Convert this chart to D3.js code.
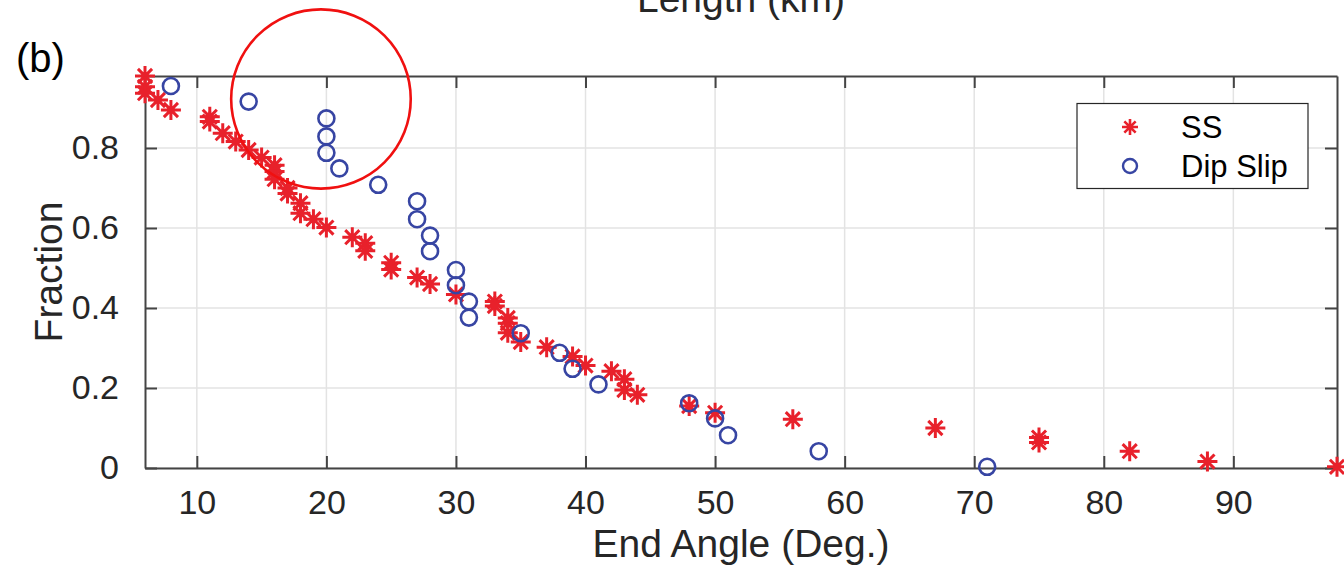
<!DOCTYPE html>
<html>
<head>
<meta charset="utf-8">
<script src="https://cdn.jsdelivr.net/npm/d3@7"></script>
<style>
  html, body { margin: 0; padding: 0; background: #fff; }
  svg { display: block; }
  text { font-family: "Liberation Sans", Arial, Helvetica, sans-serif; }
</style>
</head>
<body>
<svg id="chart" width="1344" height="566"></svg>
<script>
// ---------------- data ----------------
const ssAngle    = [6, 6, 6, 7, 8, 11, 11, 12, 13, 14, 15, 16, 16, 16, 17, 17, 18, 18, 19, 20, 22, 23, 23, 25, 25, 27, 28, 30, 33, 33, 34, 34, 34, 35, 37, 39, 40, 42, 43, 43, 44, 48, 50, 56, 67, 75, 75, 82, 88, 98];
const ssFraction = [0.98, 0.953, 0.937, 0.92, 0.895, 0.878, 0.866, 0.837, 0.816, 0.795, 0.776, 0.757, 0.741, 0.722, 0.700, 0.686, 0.662, 0.637, 0.622, 0.601, 0.577, 0.562, 0.543, 0.513, 0.496, 0.476, 0.460, 0.434, 0.416, 0.405, 0.375, 0.362, 0.338, 0.315, 0.302, 0.279, 0.256, 0.242, 0.222, 0.195, 0.183, 0.155, 0.138, 0.122, 0.100, 0.076, 0.064, 0.042, 0.016, 0.003];

const dsAngle    = [8, 14, 20, 20, 20, 21, 24, 27, 27, 28, 28, 30, 30, 31, 31, 35, 38, 39, 41, 48, 50, 51, 58, 71];
const dsFraction = [0.955, 0.916, 0.874, 0.829, 0.788, 0.749, 0.708, 0.667, 0.622, 0.581, 0.542, 0.495, 0.457, 0.416, 0.376, 0.337, 0.288, 0.248, 0.209, 0.162, 0.124, 0.082, 0.042, 0.003];

const xTicks = [10, 20, 30, 40, 50, 60, 70, 80, 90];
const xTickLabels = ["10", "20", "30", "40", "50", "60", "70", "80", "90"];
const yTicks = [0, 0.2, 0.4, 0.6, 0.8];
const yTickLabels = ["0", "0.2", "0.4", "0.6", "0.8"];
const xDomain = [6, 98];
const yDomain = [0, 0.98];

const seriesNames = ["SS", "Dip Slip"];
const xLabel = "End Angle (Deg.)";
const yLabel = "Fraction";
const panelLabel = "(b)";
const clippedTitle = "Length (km)";
// highlight ellipse annotation in data units: [cx, cy, rx, ry]
const highlight = [19.58, 0.9225, 6.93, 0.224];

// ---------------- layout ----------------
const svg = d3.select("#chart");
const L = 145, R = 1337, T = 76, B = 468;
const x = d3.scaleLinear().domain(xDomain).range([L, R]);
const y = d3.scaleLinear().domain(yDomain).range([B, T]);

const red = "#e8212b";
const blue = "#3745a3";
const axisCol = "#444";
const textCol = "#262626";
const tickLen = 12;

svg.append("rect").attr("width", 1344).attr("height", 566).attr("fill", "#fff");

// grid
const grid = svg.append("g");
grid.selectAll("line.gx").data(xTicks).join("line")
  .attr("x1", d => x(d)).attr("x2", d => x(d)).attr("y1", T).attr("y2", B)
  .attr("stroke", "#e3e3e3").attr("stroke-width", 1.5);
grid.selectAll("line.gy").data(yTicks).join("line")
  .attr("x1", L).attr("x2", R).attr("y1", d => y(d)).attr("y2", d => y(d))
  .attr("stroke", "#e3e3e3").attr("stroke-width", 1.5);

// axes via d3 axis generators (ticks inward)
const xAxisB = d3.axisBottom(x).tickValues(xTicks).tickFormat((d, i) => xTickLabels[i]).tickSizeInner(-tickLen).tickSizeOuter(0).tickPadding(22);
const xAxisT = d3.axisTop(x).tickValues(xTicks).tickFormat("").tickSizeInner(-tickLen).tickSizeOuter(0);
const yAxisL = d3.axisLeft(y).tickValues(yTicks).tickFormat((d, i) => yTickLabels[i]).tickSizeInner(-tickLen).tickSizeOuter(0).tickPadding(26);
const yAxisR = d3.axisRight(y).tickValues(yTicks).tickFormat("").tickSizeInner(-tickLen).tickSizeOuter(0);

function styleAxis(g) {
  g.select(".domain").attr("stroke", axisCol).attr("stroke-width", 2);
  g.selectAll(".tick line").attr("stroke", axisCol).attr("stroke-width", 2);
  g.selectAll(".tick text").attr("fill", textCol)
    .style("font-family", "'Liberation Sans', Arial, sans-serif").style("font-size", "34px");
}
svg.append("g").attr("transform", `translate(0,${B})`).call(xAxisB).call(styleAxis);
svg.append("g").attr("transform", `translate(0,${T})`).call(xAxisT).call(styleAxis);
svg.append("g").attr("transform", `translate(${L},0)`).call(yAxisL).call(styleAxis);
svg.append("g").attr("transform", `translate(${R},0)`).call(yAxisR).call(styleAxis);

// markers
function starPath(r) {
  const d = r * Math.SQRT1_2;
  return `M${-r},0L${r},0M0,${-r}L0,${r}M${-d},${-d}L${d},${d}M${-d},${d}L${d},${-d}`;
}
const ssData = ssAngle.map((a, i) => ({ a, f: ssFraction[i] }));
const dsData = dsAngle.map((a, i) => ({ a, f: dsFraction[i] }));

svg.append("g").selectAll("path").data(ssData).join("path")
  .attr("d", starPath(10))
  .attr("transform", d => `translate(${x(d.a)},${y(d.f)})`)
  .attr("stroke", red).attr("stroke-width", 3).attr("fill", "none");

svg.append("g").selectAll("circle").data(dsData).join("circle")
  .attr("cx", d => x(d.a)).attr("cy", d => y(d.f)).attr("r", 8)
  .attr("stroke", blue).attr("stroke-width", 2.6).attr("fill", "none");

// highlight ellipse
svg.append("ellipse")
  .attr("cx", x(highlight[0])).attr("cy", y(highlight[1]))
  .attr("rx", x(highlight[0] + highlight[2]) - x(highlight[0]))
  .attr("ry", y(highlight[1] - highlight[3]) - y(highlight[1]))
  .attr("fill", "none").attr("stroke", "#f01010").attr("stroke-width", 2.6);

// labels
svg.append("text").attr("x", (L + R) / 2).attr("y", 557).attr("text-anchor", "middle")
  .attr("fill", textCol).style("font-size", "39px").text(xLabel);
svg.append("text").attr("transform", `translate(62,${(T + B) / 2}) rotate(-90)`).attr("text-anchor", "middle")
  .attr("fill", textCol).style("font-size", "39px").text(yLabel);
svg.append("text").attr("x", 16).attr("y", 72).attr("fill", "#000").style("font-size", "40px").text(panelLabel);
svg.append("text").attr("x", (L + R) / 2).attr("y", 12).attr("text-anchor", "middle")
  .attr("fill", textCol).style("font-size", "39px").text(clippedTitle);

// legend
const lg = svg.append("g");
lg.append("rect").attr("x", 1077).attr("y", 103.5).attr("width", 231).attr("height", 85)
  .attr("fill", "#fff").attr("stroke", textCol).attr("stroke-width", 1.2);
const legRows = [
  { name: seriesNames[0], kind: "star", cy: 127 },
  { name: seriesNames[1], kind: "circle", cy: 166 }
];
legRows.forEach(r => {
  if (r.kind === "star") {
    lg.append("path").attr("d", starPath(8)).attr("transform", `translate(1130,${r.cy})`)
      .attr("stroke", red).attr("stroke-width", 2.6).attr("fill", "none");
  } else {
    lg.append("circle").attr("cx", 1130).attr("cy", r.cy).attr("r", 7)
      .attr("stroke", blue).attr("stroke-width", 2.4).attr("fill", "none");
  }
  lg.append("text").attr("x", 1181).attr("y", r.cy + 11).attr("fill", "#000")
    .style("font-size", "31px").text(r.name);
});
</script>
</body>
</html>
